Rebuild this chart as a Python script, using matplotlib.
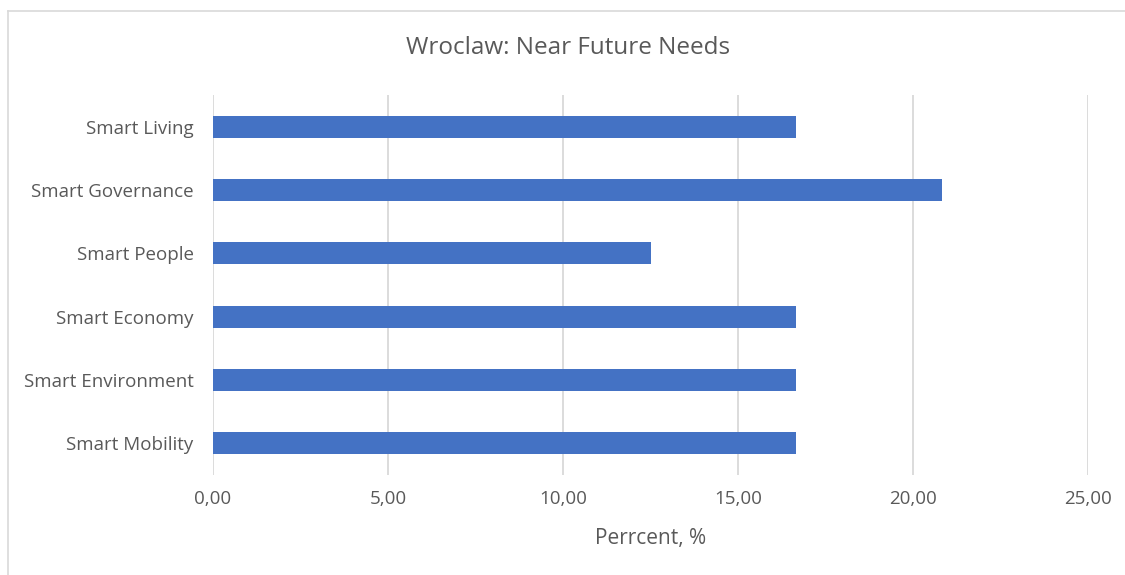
import matplotlib.pyplot as plt
from matplotlib.lines import Line2D
from matplotlib.ticker import FuncFormatter

# categories listed bottom-to-top, like the spreadsheet
categories = ["Smart Mobility", "Smart Environment", "Smart Economy",
              "Smart People", "Smart Governance", "Smart Living"]
percent = [16.67, 16.67, 16.67, 12.50, 20.83, 16.67]
x_ticks = [0, 5, 10, 15, 20, 25]

plt.rcParams['font.family'] = ['Open Sans', 'DejaVu Sans']
text_col = '#595959'

fig = plt.figure(figsize=(11.25, 5.75), dpi=100)
ax = fig.add_axes([213 / 1125, 1 - 475 / 575, 875 / 1125, 380 / 575])

ypos = range(len(categories))
ax.barh(ypos, percent, height=0.35, color='#4472C4', zorder=3)

ax.set_xlim(0, 25)
ax.set_ylim(-0.5, len(categories) - 0.5)
ax.set_xticks(x_ticks)
ax.xaxis.set_major_formatter(FuncFormatter(lambda v, p: f"{v:.2f}".replace('.', ',')))
ax.set_yticks(list(ypos))
ax.set_yticklabels(categories)

ax.grid(axis='x', color='#D9D9D9', linewidth=1.3, zorder=0)
for s in ax.spines.values():
    s.set_visible(False)
ax.tick_params(axis='both', length=0, colors=text_col, labelsize=13.5)
ax.tick_params(axis='y', pad=14)
ax.tick_params(axis='x', pad=11)

ax.set_xlabel("Perrcent, %", fontsize=15, color=text_col, labelpad=14)
fig.text(568 / 1125, 1 - 48 / 575, "Wroclaw: Near Future Needs",
         ha='center', va='center', fontsize=17.5, color=text_col)

# chart frame (only left and top edges are visible in the crop)
fig.add_artist(Line2D([7.5 / 1125, 7.5 / 1125], [0, 1 - 11 / 575],
                      color='#D9D9D9', linewidth=1.2))
fig.add_artist(Line2D([7.5 / 1125, 1], [1 - 11 / 575, 1 - 11 / 575],
                      color='#D9D9D9', linewidth=1.2))

fig.savefig("out.png", dpi=100)
